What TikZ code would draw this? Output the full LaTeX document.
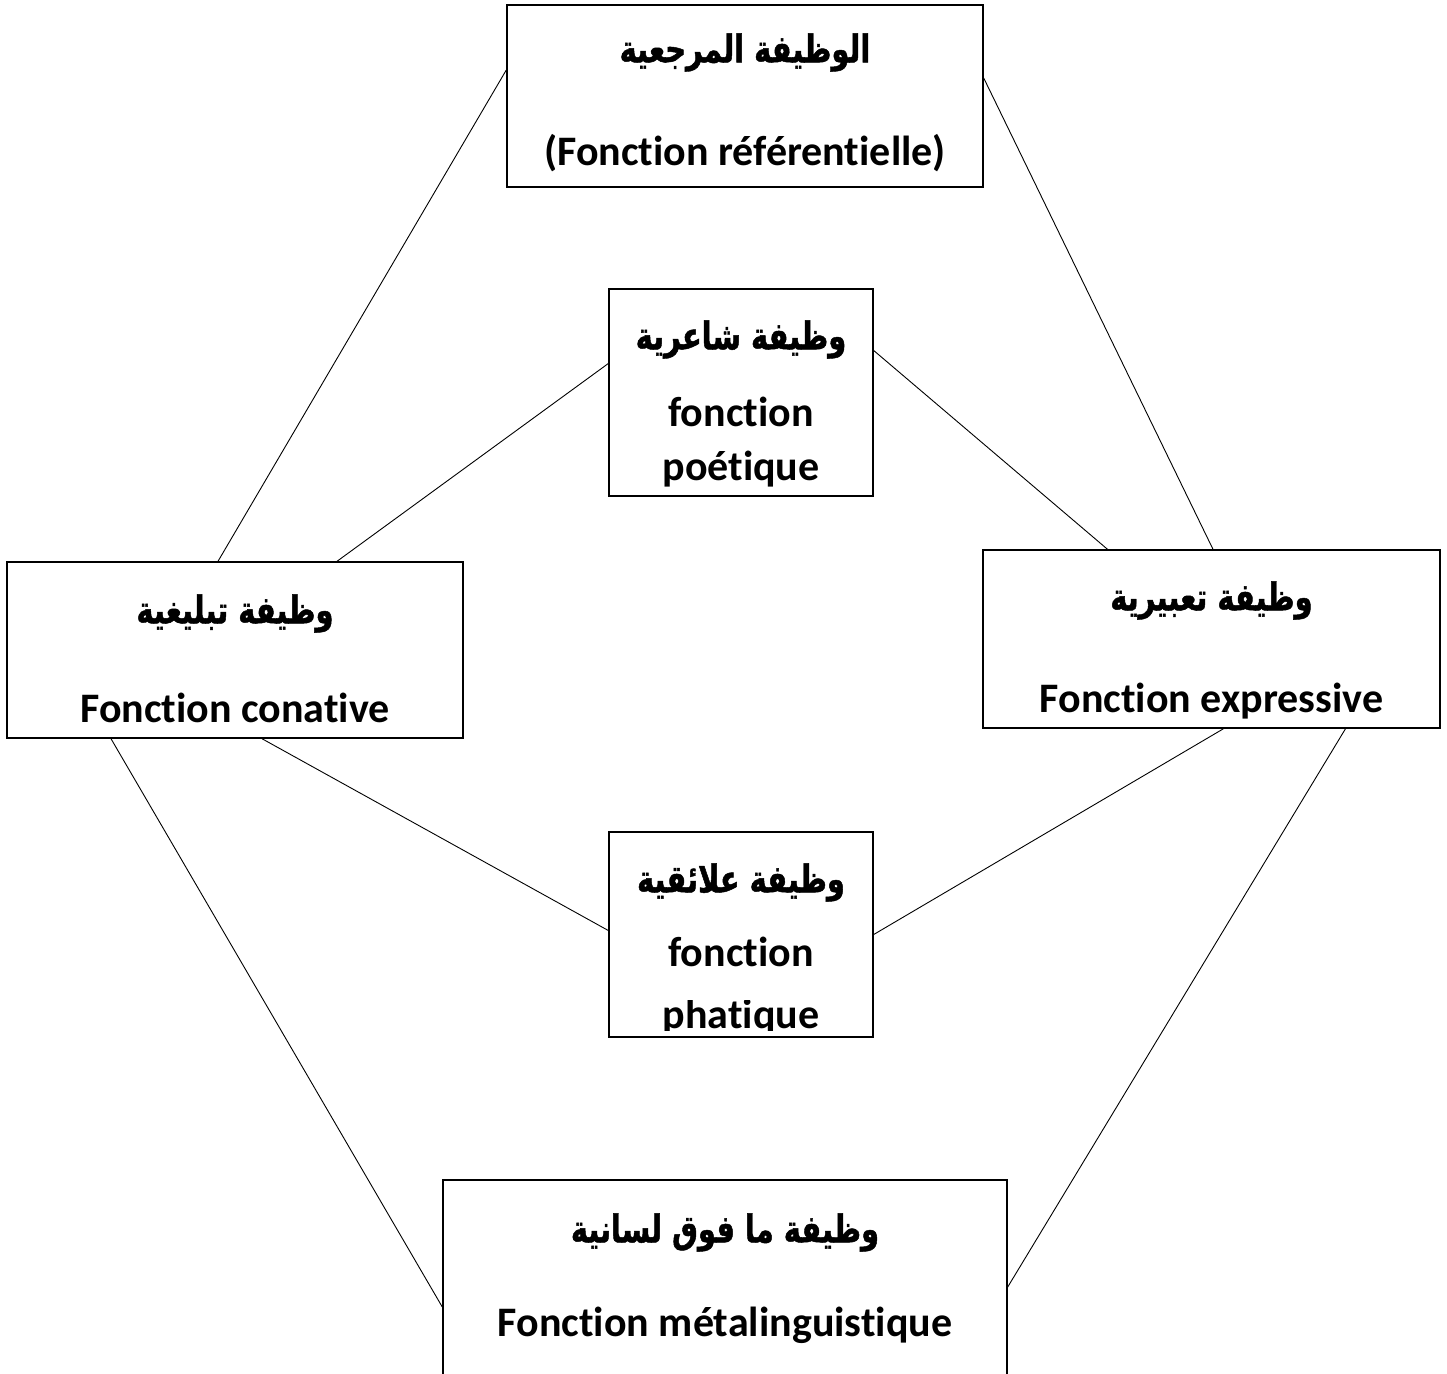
\documentclass[tikz,border=0pt]{standalone}
\usepackage{fontspec}
\setmainfont{Carlito}[Ligatures=NoCommon]
\newfontfamily\arabicfont[Script=Arabic,FakeStretch=0.76,FakeBold=1.2]{DejaVu Sans}
\TeXXeTstate=1
\usetikzlibrary{calc}

\begin{document}
\begin{tikzpicture}[x=1pt,y=-1pt,
  box/.style={draw,line width=1.4pt,rectangle,inner sep=0pt},
  fr/.style={anchor=base,inner sep=0pt,font=\fontsize{42}{50}\selectfont\bfseries},
  ar/.style={anchor=base,inner sep=0pt,font=\fontsize{38}{46}\selectfont\arabicfont\bfseries},
  link/.style={line width=0.9pt}]
\clip (0,0) rectangle (1447,1373);

% the six boxes
\node[box,minimum width=476pt,minimum height=182pt] (ref) at (745,96) {};
\node[box,minimum width=264pt,minimum height=207pt] (poet) at (741,392.5) {};
\node[box,minimum width=456pt,minimum height=176pt] (conat) at (235,650) {};
\node[box,minimum width=457pt,minimum height=178pt] (expr) at (1211.5,639) {};
\node[box,minimum width=264pt,minimum height=205pt] (phat) at (741,934.5) {};
\node[box,minimum width=564pt,minimum height=210pt] (meta) at (725,1285) {};

% their texts
\node[ar] (refAr) at ([yshift=-58pt]ref.north) {\beginR الوظيفة المرجعية\endR};
\node[fr] (refFr) at ([yshift=-161pt]ref.north) {(Fonction référentielle)};

\node[ar] (poetAr) at ([yshift=-61pt]poet.north) {\beginR وظيفة شاعرية\endR};
\node[fr] (poetFr) at ([yshift=-138pt]poet.north) {fonction};
\node[fr] (poetFrb) at ([yshift=-192pt]poet.north) {poétique};

\node[ar] (conatAr) at ([yshift=-62pt]conat.north) {\beginR وظيفة تبليغية\endR};
\node[fr] (conatFr) at ([yshift=-161pt]conat.north) {Fonction conative};

\node[ar] (exprAr) at ([yshift=-61pt]expr.north) {\beginR وظيفة تعبيرية\endR};
\node[fr] (exprFr) at ([yshift=-163pt]expr.north) {Fonction expressive};

\node[ar] (phatAr) at ([yshift=-61pt]phat.north) {\beginR وظيفة علائقية\endR};
\node[fr] (phatFr) at ([yshift=-135pt]phat.north) {fonction};
\begin{scope}
\clip (600,1000) rectangle (880,1030);
\node[fr] (phatFrb) at ([yshift=-197pt]phat.north) {phatique};
\end{scope}

\node[ar] (metaAr) at ([yshift=-63pt]meta.north) {\beginR وظيفة ما فوق لسانية\endR};
\node[fr] (metaFr) at ([yshift=-157pt]meta.north) {Fonction métalinguistique};

% connectors
\draw[link] ([yshift=26pt]ref.west) -- ([xshift=-17pt]conat.north);
\draw[link] ([yshift=18pt]ref.east) -- ([xshift=1.5pt]expr.north);
\draw[link] ([yshift=29pt]poet.west) -- ([xshift=102pt]conat.north);
\draw[link] ([yshift=42pt]poet.east) -- ([xshift=-104pt]expr.north);
\draw[link] ([xshift=27pt]conat.south) -- ([yshift=4pt]phat.west);
\draw[link] ([xshift=12pt]expr.south) -- ([yshift=0pt]phat.east);
\draw[link] ([xshift=-124pt]conat.south) -- ([yshift=-22pt]meta.west);
\draw[link] ([xshift=134pt]expr.south) -- ([yshift=-2pt]meta.east);

\end{tikzpicture}
\end{document}
